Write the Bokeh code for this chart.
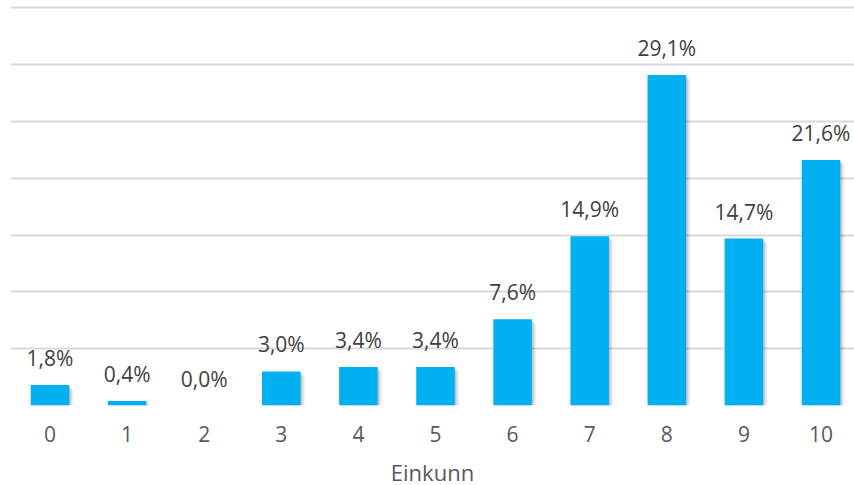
from bokeh.plotting import figure
from bokeh.models import ColumnDataSource, FixedTicker, Grid
from bokeh.core.properties import value
from bokeh.embed import file_html
from bokeh.resources import INLINE

# Share of answers per grade (%)
grades = [0, 1, 2, 3, 4, 5, 6, 7, 8, 9, 10]
shares = [1.8, 0.4, 0.0, 3.0, 3.4, 3.4, 7.6, 14.9, 29.1, 14.7, 21.6]
tick_labels = [str(g) for g in grades]
axis_title = "Einkunn"

labels = [f"{v:.1f}".replace(".", ",") + "%" for v in shares]

FONT = "Open Sans"
BAR = "#00B0F0"

src = ColumnDataSource(dict(x=grades, top=shares, label=labels))

W, H = 854, 485
frame_left, frame_h = 10, 405
frame_w = W - frame_left
px_per_cat = 77.1
px_per_pct = 11.36
x0 = -(49.5 - frame_left) / px_per_cat
x1 = x0 + frame_w / px_per_cat
y1 = frame_h / px_per_pct

p = figure(frame_width=frame_w, frame_height=frame_h,
           output_backend="svg", toolbar_location=None,
           x_range=(x0, x1), y_range=(0, y1), y_axis_location=None,
           min_border_left=frame_left, min_border_right=0,
           min_border_top=0, min_border_bottom=H - frame_h)
p.outline_line_color = None
p.background_fill_color = "white"
p.border_fill_color = "white"
p.xgrid.visible = False
p.ygrid.visible = False

p.add_layout(Grid(dimension=1, ticker=FixedTicker(ticks=[0, 5, 10, 15, 20, 25, 30, 35]),
                  grid_line_color="#D9D9D9", grid_line_width=2))

# soft drop shadow to the right of each bar
for off, a in [(1.5, 0.12), (3.0, 0.08), (4.5, 0.05)]:
    p.vbar(x=[g + off / px_per_cat for g in grades], width=0.5,
           top=[max(s - off / px_per_pct, 0) for s in shares], bottom=0,
           fill_color="black", fill_alpha=a, line_color=None)

p.vbar(x="x", top="top", width=0.5, bottom=0, source=src,
       fill_color=BAR, line_color=None)

p.text(x="x", y="top", text="label", source=src, text_align="center",
       text_baseline="alphabetic", y_offset=-27, text_font=value(FONT),
       text_font_size="21px", text_color="#404040")

ax = p.xaxis[0]
ax.ticker = FixedTicker(ticks=grades)
ax.major_label_overrides = {g: t for g, t in zip(grades, tick_labels)}
ax.axis_line_color = None
ax.major_tick_line_color = None
ax.minor_tick_line_color = None
ax.major_label_standoff = 14
ax.major_label_text_font = FONT
ax.major_label_text_font_size = "21px"
ax.major_label_text_color = "#595959"
ax.axis_label = axis_title
ax.axis_label_standoff = 12
ax.axis_label_text_line_height = 0.8
ax.axis_label_text_font = FONT
ax.axis_label_text_font_size = "22px"
ax.axis_label_text_font_style = "normal"
ax.axis_label_text_color = "#595959"

open("out.html", "w").write(file_html(p, INLINE))
